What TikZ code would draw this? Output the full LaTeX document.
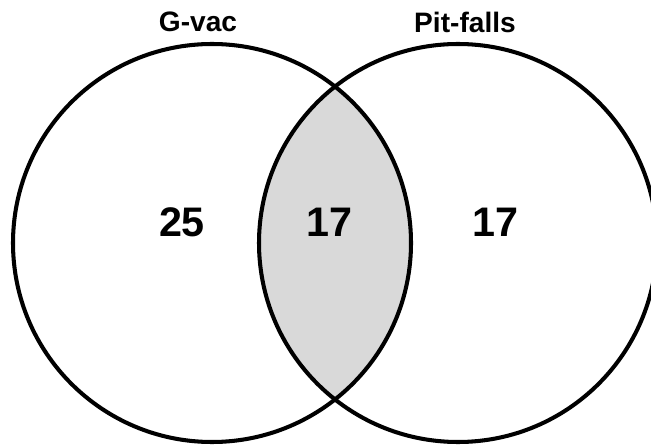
\documentclass[tikz,border=0pt]{standalone}
\usepackage{fontspec}
\setmainfont{Liberation Sans}
\usetikzlibrary{arrows,shapes}
\definecolor{lensgray}{RGB}{217,217,217}
\tikzstyle{setcircle} = [draw,line width=2.3pt]
\tikzstyle{setname} = [inner sep=0pt,font=\bfseries\fontsize{16}{19}\selectfont]
\tikzstyle{count} = [inner sep=0pt,font=\bfseries\fontsize{23.5}{28}\selectfont]

\begin{document}
\begin{tikzpicture}[x=0.02cm,y=-0.02cm]
    \useasboundingbox (0,0) rectangle (651,445);
    % centres of the two sets
    \coordinate (gvac) at (212,243);
    \coordinate (pit) at (458,243);

    % shade the overlap first
    \begin{scope}
        \clip (gvac) circle (199);
        \fill[lensgray] (pit) circle (199);
    \end{scope}
    \draw[setcircle] (gvac) circle (199);
    \draw[setcircle] (pit) circle (199);

    % set names
    \node[setname] (gvaclabel) at (198,22) {G-vac};
    \node[setname] (pitlabel) at (465,22) {Pit-falls};

    % counts in each region
    \foreach \pos/\name/\num in {{(182,222)/onlygvac/25}, {(329,222)/both/17}, {(495,222)/onlypit/17}}
        \node[count] (\name) at \pos {\num};
\end{tikzpicture}
\end{document}
